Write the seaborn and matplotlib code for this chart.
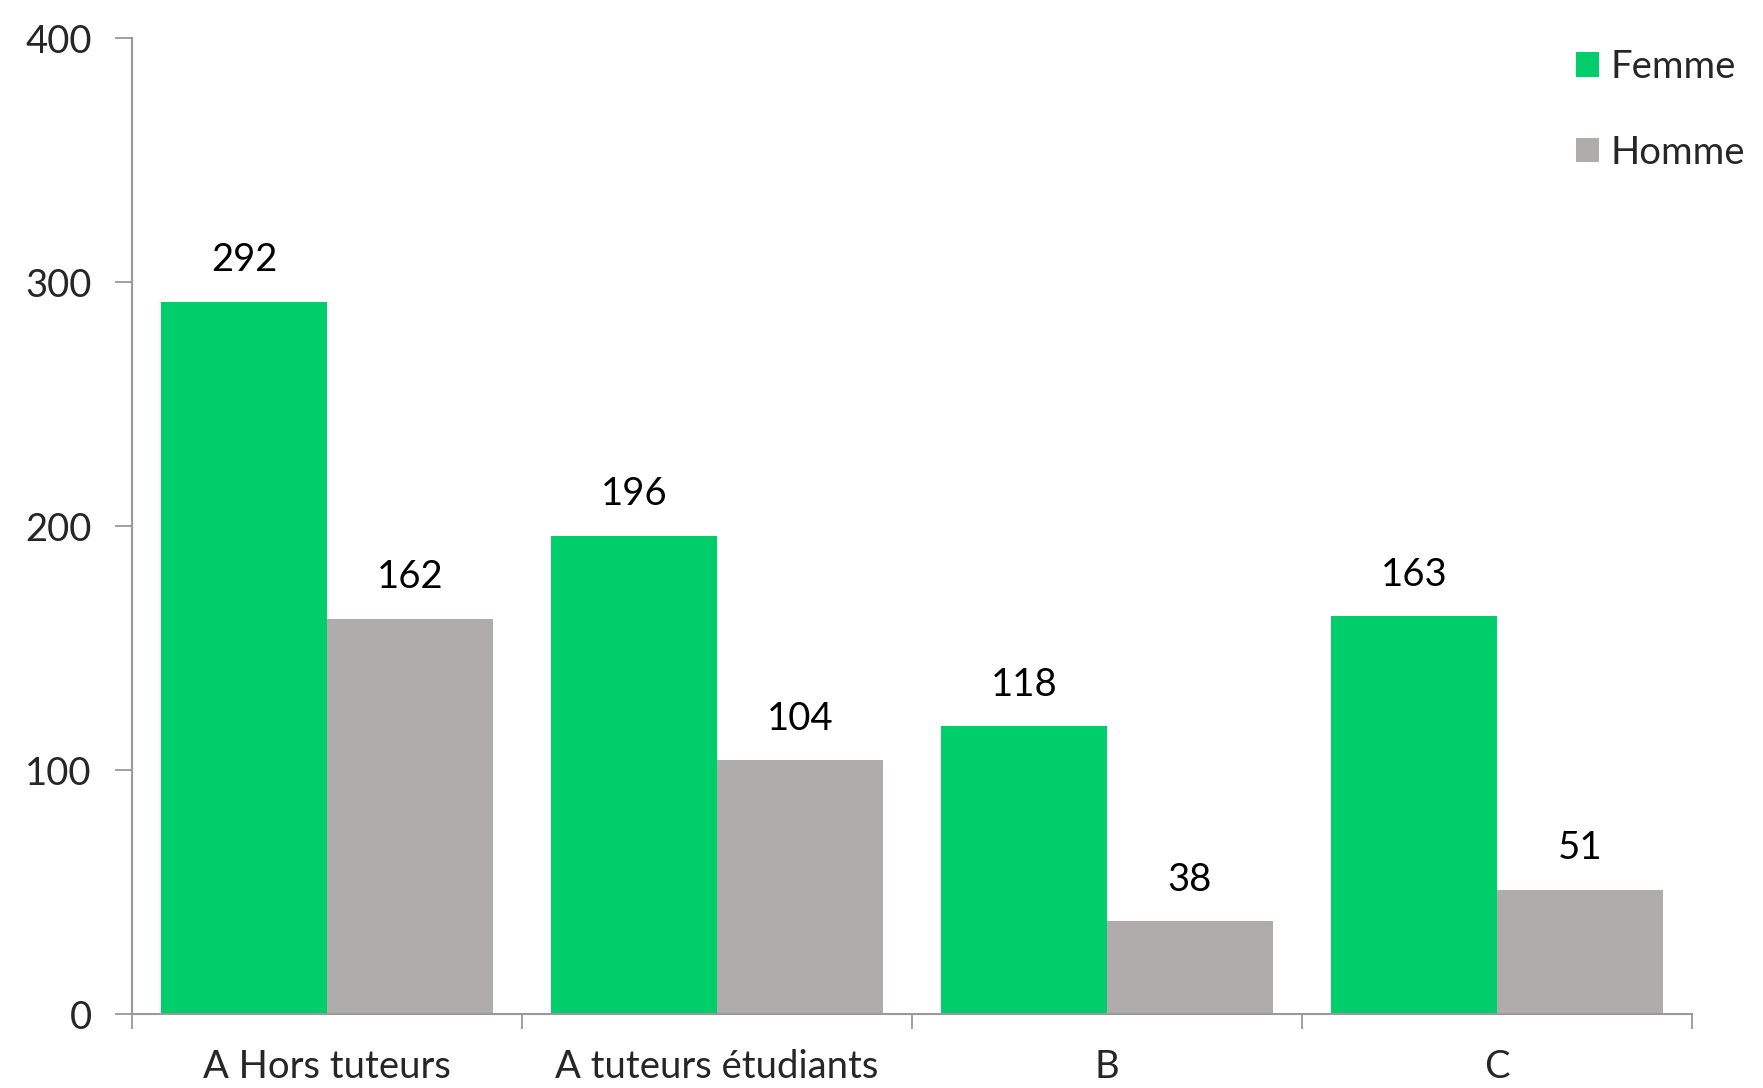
import matplotlib
matplotlib.use("Agg")
import matplotlib.pyplot as plt
import seaborn as sns
import pandas as pd

categories = ["A Hors tuteurs", "A tuteurs étudiants", "B", "C"]
femme = [292, 196, 118, 163]
homme = [162, 104, 38, 51]
series_names = ["Femme", "Homme"]
colors = ["#00CE6B", "#AFACAB"]
yticks = [0, 100, 200, 300, 400]

sns.set_theme(style="white")
plt.rcParams["font.family"] = ["Lato", "DejaVu Sans"]

df = pd.DataFrame({
    "cat": categories * 2,
    "val": femme + homme,
    "sexe": [series_names[0]] * len(categories) + [series_names[1]] * len(categories),
})

fig = plt.figure(figsize=(17.63, 10.88), dpi=100)
ax = fig.add_axes([0.0749, 0.068, 0.8848, 0.897])

sns.barplot(data=df, x="cat", y="val", hue="sexe", order=categories,
            hue_order=series_names, palette=colors, width=0.85,
            saturation=1, linewidth=0, ax=ax, legend=True)

FS = 27.5
for cont in ax.containers:
    ax.bar_label(cont, fmt="%d", padding=17, fontsize=FS, color="black")

ax.set_ylim(0, 400)
ax.set_xlim(-0.5, len(categories) - 0.5)
ax.set_yticks(yticks)
ax.set_yticklabels([str(v) for v in yticks], fontsize=FS)
ax.set_xticks(range(len(categories)))
ax.set_xticklabels(categories, fontsize=FS)
ax.set_xticks([i - 0.5 for i in range(len(categories) + 1)], minor=True)
ax.tick_params(axis="x", which="major", bottom=True, length=0, pad=25)
ax.tick_params(axis="x", which="minor", bottom=True, length=11, width=1.3,
               color="#999999", direction="out")
ax.tick_params(axis="y", which="major", left=True, length=12, width=1.3,
               color="#999999", direction="out", pad=17)
ax.set_xlabel("")
ax.set_ylabel("")

for s in ["top", "right"]:
    ax.spines[s].set_visible(False)
for s in ["left", "bottom"]:
    ax.spines[s].set_color("#999999")
    ax.spines[s].set_linewidth(1.5)

leg = ax.legend(loc="upper left", bbox_to_anchor=(0.894, 0.955),
                bbox_transform=fig.transFigure, frameon=False, fontsize=FS,
                handlelength=0.6, handleheight=0.6, handletextpad=0.3,
                labelspacing=1.3, borderpad=0, borderaxespad=0)

fig.savefig("out.png", dpi=100)
